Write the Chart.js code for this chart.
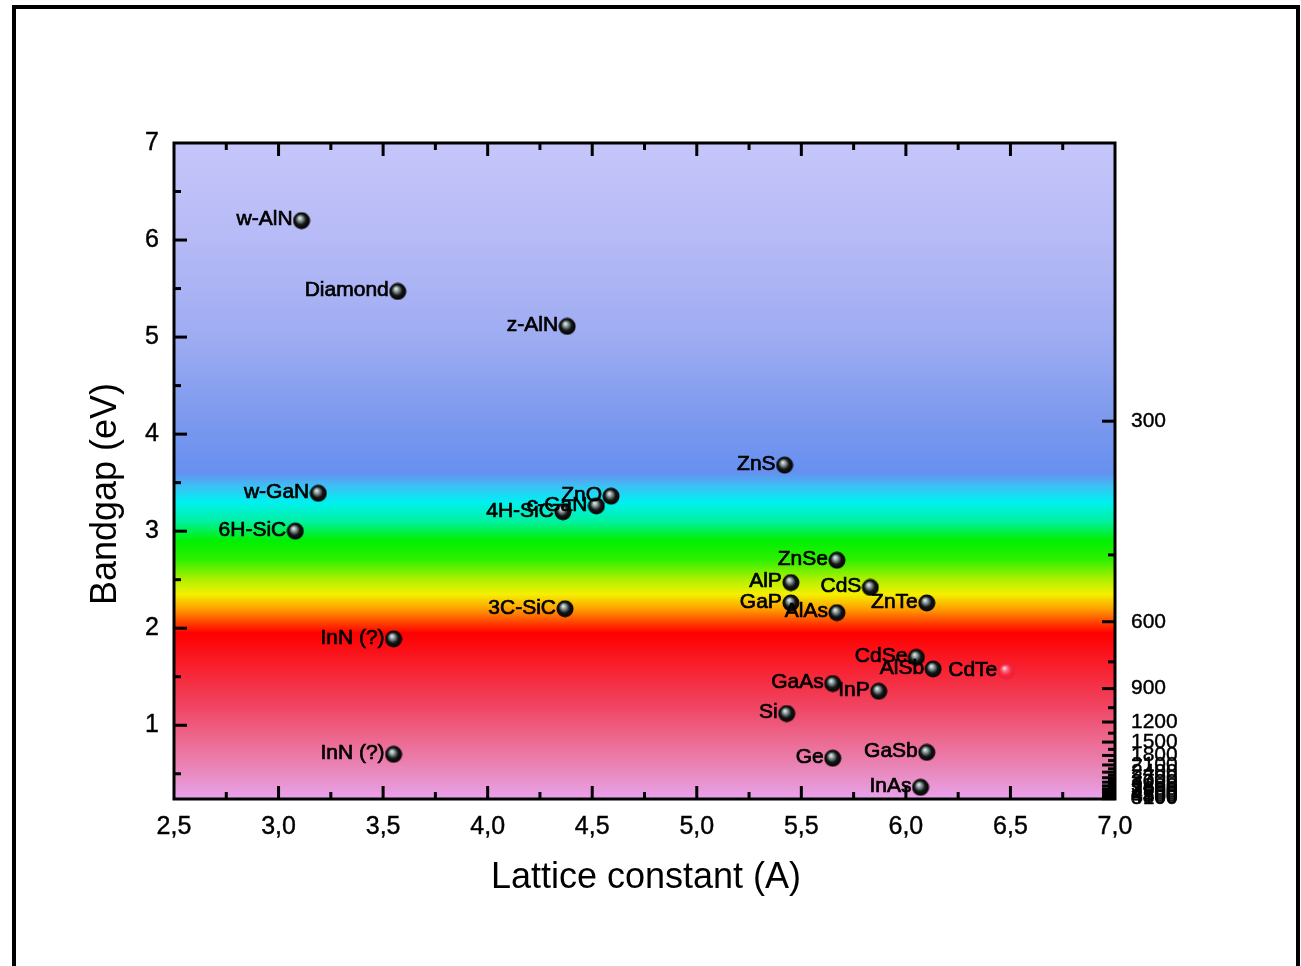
<!DOCTYPE html>
<html>
<head>
<meta charset="utf-8">
<title>Bandgap vs lattice constant</title>
<script src="https://cdn.jsdelivr.net/npm/chart.js@4.4.1/dist/chart.umd.min.js"></script>
<style>
  html, body { margin: 0; padding: 0; background: #fff; }
  canvas { display: block; }
</style>
</head>
<body>
<canvas id="gapChart" width="1301" height="966"></canvas>
<script>
const FONT = '"Liberation Sans", Arial, sans-serif';

// semiconductors: lattice constant (A) and bandgap (eV)
const materials = ['w-AlN', 'Diamond', 'z-AlN', 'ZnS', 'w-GaN', 'ZnO', 'c-GaN', '4H-SiC', '6H-SiC',
  'ZnSe', 'AlP', 'CdS', 'ZnTe', 'GaP', 'AlAs', '3C-SiC', 'InN (?)', 'CdSe', 'AlSb', 'CdTe',
  'GaAs', 'InP', 'Si', 'InN (?)', 'GaSb', 'Ge', 'InAs'];
const latticeA = [3.11, 3.57, 4.38, 5.42, 3.19, 4.59, 4.52, 4.36, 3.08,
  5.67, 5.45, 5.83, 6.10, 5.45, 5.67, 4.37, 3.55, 6.05, 6.13, 6.48,
  5.65, 5.87, 5.43, 3.55, 6.10, 5.65, 6.07];
const bandgapEV = [6.20, 5.47, 5.11, 3.68, 3.39, 3.36, 3.26, 3.20, 3.00,
  2.70, 2.47, 2.42, 2.26, 2.26, 2.16, 2.20, 1.89, 1.70, 1.58, 1.56,
  1.43, 1.35, 1.12, 0.70, 0.72, 0.66, 0.36];
const pinkMarks = ['CdTe'];

// axis ticks
const xTicks = [2.5, 3.0, 3.5, 4.0, 4.5, 5.0, 5.5, 6.0, 6.5, 7.0];
const yTicks = [1, 2, 3, 4, 5, 6, 7];
const waveLabels = [300, 600, 900, 1200, 1500, 1800, 2100, 2400, 2700, 3000, 3300,
  3600, 3900, 4200, 4500, 4800, 5100];
const waveMinor = [450, 750, 1050, 1350, 1650, 1950, 2250, 2550, 2850, 3150, 3450,
  3750, 4050, 4350, 4650, 4950];
const HC = 1240; // eV*nm

// spectrum behind the data, stops in eV
const spectrum = [
  [7.0, '#c6c6fa'], [6.0, '#b6baf6'], [5.0, '#9eacf2'], [4.2, '#7e9aee'],
  [3.6, '#6690f0'], [3.45, '#38c4f4'], [3.3, '#00f0f2'], [3.1, '#00f0a0'],
  [2.9, '#00f000'], [2.7, '#30f000'], [2.5, '#b0f000'], [2.35, '#f4f000'],
  [2.2, '#ffa000'], [2.07, '#ff4a00'], [1.95, '#ff0000'], [1.6, '#f8202e'],
  [1.2, '#f04462'], [0.8, '#ec6e96'], [0.45, '#e890c8'], [0.24, '#eaa2ee']
];

function makeBall(light, mid, dark, edge) {
  const c = document.createElement('canvas');
  c.width = 18; c.height = 18;
  const g = c.getContext('2d');
  const grad = g.createRadialGradient(7, 6, 0, 9, 9, 9);
  grad.addColorStop(0, light);
  grad.addColorStop(0.28, mid);
  grad.addColorStop(0.6, dark);
  grad.addColorStop(1, edge);
  g.fillStyle = grad;
  g.beginPath(); g.arc(9, 9, 8.5, 0, Math.PI * 2); g.fill();
  return c;
}
const blackBall = makeBall('#f4fbfb', '#8a9c9c', '#151515', '#000');
const pinkBall = makeBall('#fff0f4', '#ff7088', '#f42a40', '#f01830');

const backdrop = {
  id: 'backdrop',
  beforeDraw(chart) {
    const { ctx, chartArea: a, scales } = chart;
    ctx.save();
    ctx.fillStyle = '#fff';
    ctx.fillRect(0, 0, chart.width, chart.height);
    const y = scales.y;
    const grad = ctx.createLinearGradient(0, a.top, 0, a.bottom);
    spectrum.forEach(([e, col]) => {
      const t = (y.getPixelForValue(e) - a.top) / (a.bottom - a.top);
      grad.addColorStop(Math.min(1, Math.max(0, t)), col);
    });
    ctx.fillStyle = grad;
    ctx.fillRect(a.left, a.top, a.right - a.left, a.bottom - a.top);
    ctx.restore();
  }
};

const pointLabels = {
  id: 'pointLabels',
  afterDatasetsDraw(chart) {
    const { ctx } = chart;
    const meta = chart.getDatasetMeta(0);
    ctx.save();
    ctx.font = '21px ' + FONT;
    ctx.fillStyle = '#000';
    ctx.strokeStyle = '#000';
    ctx.lineWidth = 0.7;
    ctx.textAlign = 'right';
    ctx.textBaseline = 'middle';
    meta.data.forEach((pt, i) => {
      ctx.fillText(materials[i], pt.x - 9, pt.y - 1);
      ctx.strokeText(materials[i], pt.x - 9, pt.y - 1);
    });
    ctx.restore();
  }
};

const frame = {
  id: 'frame',
  afterDraw(chart) {
    const { ctx, chartArea: a, scales } = chart;
    const x = scales.x, y = scales.y;
    ctx.save();
    ctx.strokeStyle = '#000';
    ctx.lineCap = 'butt';
    ctx.lineWidth = 3;

    const tick = (x0, y0, x1, y1) => { ctx.beginPath(); ctx.moveTo(x0, y0); ctx.lineTo(x1, y1); ctx.stroke(); };

    // bottom and top ticks, pointing inward
    for (let v = 2.75; v < 7; v += 0.25) {
      const major = Math.abs(v * 2 - Math.round(v * 2)) < 1e-6;
      const len = major ? 13 : 7;
      const px = x.getPixelForValue(v);
      tick(px, a.bottom, px, a.bottom - len);
      tick(px, a.top, px, a.top + len);
    }
    // left ticks
    for (let v = 0.5; v < 7; v += 0.5) {
      const major = Number.isInteger(v);
      const py = y.getPixelForValue(v);
      if (py > a.bottom) continue;
      tick(a.left, py, a.left + (major ? 13 : 7), py);
    }
    // right ticks, wavelength in nm
    waveLabels.forEach(w => {
      const py = y.getPixelForValue(HC / w);
      if (py <= a.bottom) tick(a.right, py, a.right - 13, py);
    });
    waveMinor.forEach(w => {
      const py = y.getPixelForValue(HC / w);
      if (py <= a.bottom) tick(a.right, py, a.right - 7, py);
    });

    ctx.strokeRect(a.left, a.top, a.right - a.left, a.bottom - a.top);

    // axis titles
    ctx.fillStyle = '#000';
    ctx.font = '36px ' + FONT;
    ctx.textAlign = 'center';
    ctx.textBaseline = 'middle';
    ctx.fillText('Lattice constant (A)', 646, 878);
    ctx.translate(106, 494);
    ctx.rotate(-Math.PI / 2);
    ctx.fillText('Bandgap (eV)', 0, 0);
    ctx.setTransform(1, 0, 0, 1, 0, 0);

    // outer border
    ctx.lineWidth = 4;
    ctx.strokeRect(14, 7, 1284, 1000);
    ctx.restore();
  }
};

new Chart(document.getElementById('gapChart'), {
  type: 'scatter',
  data: {
    datasets: [{
      data: latticeA.map((a, i) => ({ x: a, y: bandgapEV[i] })),
      pointStyle: ctx => pinkMarks.includes(materials[ctx.dataIndex]) ? pinkBall : blackBall,
      pointRadius: 8.5,
      pointHoverRadius: 8.5
    }]
  },
  options: {
    responsive: false,
    animation: false,
    events: [],
    layout: { padding: { top: 143, left: 0, right: 0, bottom: 0 } },
    plugins: { legend: { display: false }, tooltip: { enabled: false } },
    scales: {
      x: {
        type: 'linear', min: 2.5, max: 7.0,
        afterBuildTicks: s => { s.ticks = xTicks.map(v => ({ value: v })); },
        afterFit: s => { s.height = 167; },
        grid: { display: false, drawTicks: false },
        border: { display: false },
        ticks: {
          autoSkip: false, maxRotation: 0, padding: 13, color: '#000',
          textStrokeColor: '#000', textStrokeWidth: 0.4,
          font: { family: FONT, size: 25 },
          callback: v => v.toFixed(1).replace('.', ',')
        }
      },
      y: {
        type: 'linear', position: 'left', min: 0.24, max: 7,
        afterBuildTicks: s => { s.ticks = yTicks.map(v => ({ value: v })); },
        afterFit: s => { s.width = 174; },
        grid: { display: false, drawTicks: false },
        border: { display: false },
        ticks: {
          autoSkip: false, padding: 15, color: '#000',
          textStrokeColor: '#000', textStrokeWidth: 0.4,
          font: { family: FONT, size: 25 }
        }
      },
      yr: {
        type: 'linear', position: 'right', min: 0.24, max: 7,
        afterBuildTicks: s => { s.ticks = waveLabels.map(w => ({ value: HC / w })); },
        afterFit: s => { s.width = 186; },
        grid: { display: false, drawTicks: false },
        border: { display: false },
        ticks: {
          autoSkip: false, padding: 16, color: '#000',
          textStrokeColor: '#000', textStrokeWidth: 0.4,
          font: { family: FONT, size: 21 },
          callback: (v, i) => String(waveLabels[i])
        }
      }
    }
  },
  plugins: [backdrop, pointLabels, frame]
});
</script>
</body>
</html>
